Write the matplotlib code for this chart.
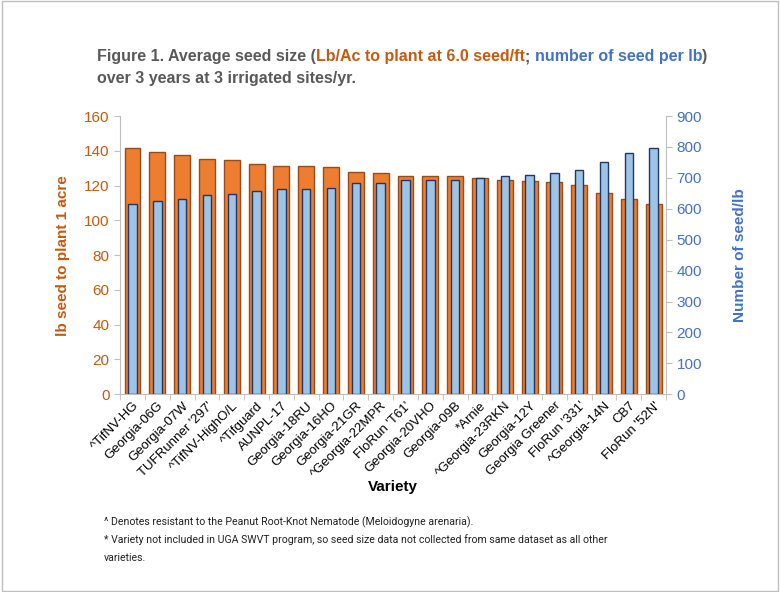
import matplotlib
matplotlib.use("Agg")
import matplotlib.pyplot as plt
import numpy as np

# Datos
variedades = ["^TifNV-HG", "Georgia-06G", "Georgia-07W", "TUFRunner '297'", "^TifNV-HighO/L",
              "^Tifguard", "AUNPL-17", "Georgia-18RU", "Georgia-16HO", "Georgia-21GR",
              "^Georgia-22MPR", "FloRun 'T61'", "Georgia-20VHO", "Georgia-09B", "*Arnie",
              "^Georgia-23RKN", "Georgia-12Y", "Georgia Greener", "FloRun '331'",
              "^Georgia-14N", "CB7", "FloRun '52N'"]
lb_por_acre = [141.8, 139.5, 137.8, 135.5, 134.6, 132.6, 131.5, 131.1, 130.7, 128.0, 127.3,
               125.7, 125.7, 125.7, 124.6, 123.0, 122.6, 121.9, 120.4, 115.9, 112.1, 109.4]
semillas_por_lb = [615, 625, 633, 644, 649, 656, 663, 664, 666, 682, 684,
                   694, 694, 694, 700, 707, 710, 715, 725, 751, 779, 797]

naranja = "#C55A11"
azul = "#4472C4"
gris = "#595959"

plt.rcParams['font.family'] = ['Liberation Sans', 'DejaVu Sans']

fig = plt.figure(figsize=(7.8, 5.92), dpi=100)
ax = fig.add_axes([0.154, 0.334, 0.700, 0.470])
ax2 = ax.twinx()

x = np.arange(len(variedades))
ax.bar(x, lb_por_acre, width=0.64, color="#ED7D31", edgecolor="#9C4A17", linewidth=1.0)
ax2.bar(x, semillas_por_lb, width=0.34, color="#9DC3E6", edgecolor="#203864", linewidth=1.0)

ax.set_xlim(-0.5, len(variedades) - 0.5)
ax.set_ylim(0, 160)
ax.set_yticks(np.arange(0, 161, 20))
ax2.set_ylim(0, 900)
ax2.set_yticks(np.arange(0, 901, 100))

ax.set_xticks(x)
ax.set_xticklabels(variedades, rotation=45, ha="right", rotation_mode="anchor", fontsize=9.5)
ax.set_xticks(np.arange(-0.5, len(variedades), 1), minor=True)
ax.tick_params(axis="x", which="major", length=0, pad=4)
ax.tick_params(axis="x", which="minor", length=4, color="#BFBFBF")

ax.tick_params(axis="y", colors="#BFBFBF", labelcolor=naranja, labelsize=11, length=4)
ax2.tick_params(axis="y", colors="#BFBFBF", labelcolor=azul, labelsize=11, length=4)

for a in (ax, ax2):
    a.spines["top"].set_visible(False)
    for s in ("left", "right", "bottom"):
        a.spines[s].set_color("#BFBFBF")
ax.spines["right"].set_visible(False)
ax2.spines["left"].set_visible(False)
ax2.spines["bottom"].set_visible(False)

ax.set_ylabel("lb seed to plant 1 acre", color=naranja, fontsize=11, fontweight="bold", labelpad=10)
ax2.set_ylabel("Number of seed/lb", color=azul, fontsize=11, fontweight="bold", labelpad=22)
ax.set_xlabel("Variety", fontsize=11, fontweight="bold", labelpad=0)

# Titulo con varios colores
partes = [("Figure 1. Average seed size (", gris), ("Lb/Ac to plant at 6.0 seed/ft", naranja),
          ("; ", gris), ("number of seed per lb", azul), (")", gris)]
fig.canvas.draw()
r = fig.canvas.get_renderer()
xpos = 97 / 780
for txt, col in partes:
    t = fig.text(xpos, 1 - 57 / 592, txt, color=col, fontsize=11.5, fontweight="bold", va="center")
    bb = t.get_window_extent(renderer=r)
    xpos = (bb.x1) / 780
fig.text(97 / 780, 1 - 78 / 592, "over 3 years at 3 irrigated sites/yr.", color=gris,
         fontsize=11.5, fontweight="bold", va="center")

# Notas al pie
notas = ["^ Denotes resistant to the Peanut Root-Knot Nematode (Meloidogyne arenaria).",
         "* Variety not included in UGA SWVT program, so seed size data not collected from same dataset as all other",
         "varieties."]
for i, n in enumerate(notas):
    fig.text(104 / 780, 1 - (522 + i * 18) / 592, n, fontsize=7.6, color="#222222",
             family=["Roboto", "DejaVu Sans"], va="center")

# Borde del recuadro
fig.patches.append(plt.Rectangle((0.002, 0.002), 0.996, 0.996, transform=fig.transFigure,
                                 fill=False, edgecolor="#BFBFBF", linewidth=1))

fig.savefig("out.png", dpi=100)
